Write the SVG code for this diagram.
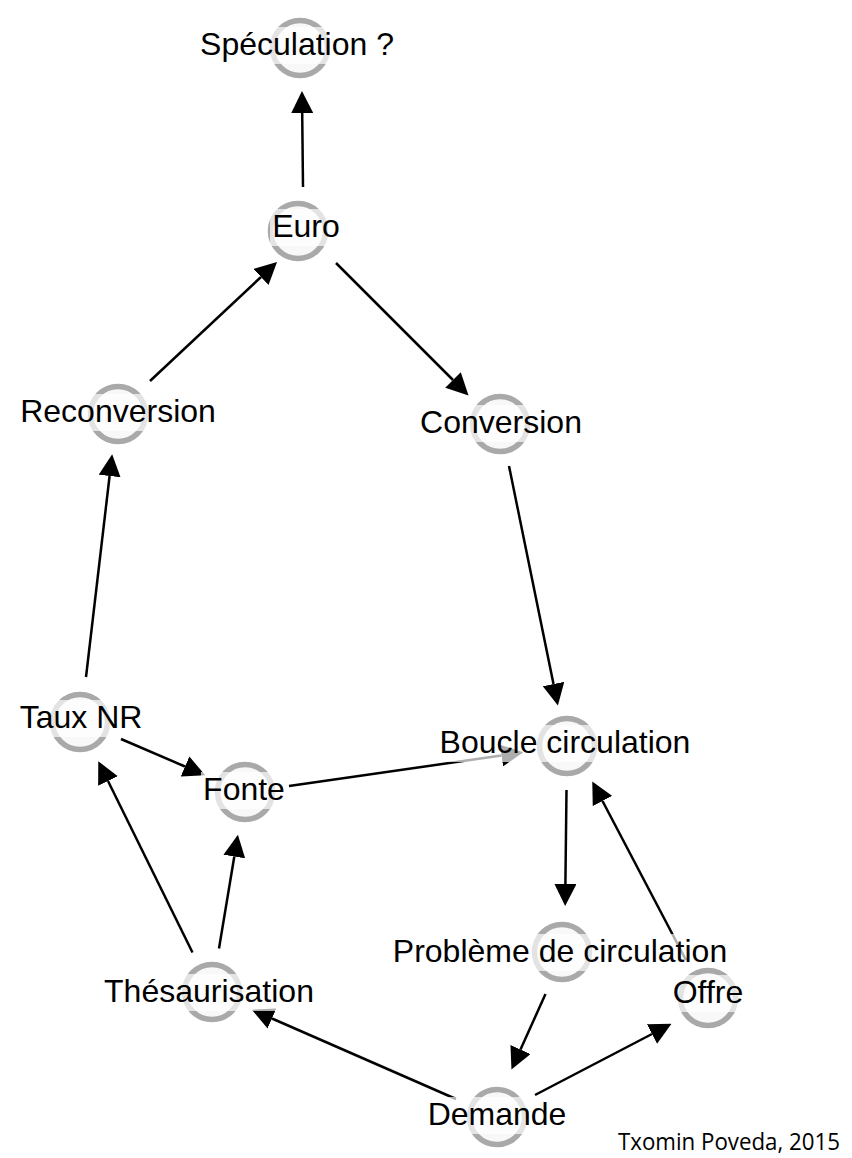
<svg xmlns="http://www.w3.org/2000/svg" width="852" height="1158" viewBox="0 0 852 1158">
<style>
.ring{fill:#f8f8f8;stroke:#a9a9a9;stroke-width:5.5}
.bg{fill:#ffffff;fill-opacity:0.68}
.lbl{font-family:"Liberation Sans",Arial,sans-serif;font-size:32px;fill:#000;text-anchor:middle}
.edge{stroke:#000;stroke-width:2.5;fill:none;marker-end:url(#arr)}
.credit{font-family:"Open Sans","Liberation Sans",sans-serif;font-size:23px;fill:#000}
</style>
<defs>
<marker id="arr" markerUnits="userSpaceOnUse" markerWidth="22" markerHeight="22" viewBox="0 0 21 21" refX="0" refY="10.5" orient="auto">
<path d="M0,0 L21,10.5 L0,21 Z" fill="#000"/>
</marker>
</defs>
<rect width="852" height="1158" fill="#fff"/>
<g id="connectors">
<line class="edge" x1="303" y1="187" x2="302.2" y2="113"/>
<line class="edge" x1="150" y1="381" x2="261" y2="277"/>
<line class="edge" x1="336" y1="263" x2="453" y2="380"/>
<line class="edge" x1="509" y1="466" x2="553.5" y2="684"/>
<line class="edge" x1="86" y1="677" x2="109.6" y2="476"/>
<line class="edge" x1="121" y1="739" x2="185" y2="766.5"/>
<line class="edge" x1="289" y1="786" x2="501.5" y2="755.5"/>
<line class="edge" x1="566.5" y1="790" x2="565.4" y2="884"/>
<line class="edge" x1="686" y1="960" x2="602.5" y2="801"/>
<line class="edge" x1="545.5" y1="994" x2="520.5" y2="1049.5"/>
<line class="edge" x1="535" y1="1095" x2="652" y2="1034"/>
<line class="edge" x1="456" y1="1099" x2="272" y2="1018.5"/>
<line class="edge" x1="192.5" y1="952.5" x2="108" y2="781"/>
<line class="edge" x1="219" y1="948.5" x2="234.3" y2="856.5"/>
</g>
<g id="n-speculation"><circle class="ring" cx="300" cy="48" r="27.5"/><rect class="bg" x="198" y="27" width="198" height="37"/><text class="lbl" x="297" y="55">Spéculation ?</text></g>
<g id="n-euro"><circle class="ring" cx="298" cy="231" r="27.5"/><rect class="bg" x="270" y="209" width="72" height="37"/><text class="lbl" x="306" y="237">Euro</text></g>
<g id="n-reconversion"><circle class="ring" cx="118" cy="414" r="27.5"/><rect class="bg" x="18" y="394" width="200" height="37"/><text class="lbl" x="118" y="422">Reconversion</text></g>
<g id="n-conversion"><circle class="ring" cx="500" cy="424" r="27.5"/><rect class="bg" x="418" y="405" width="166" height="37"/><text class="lbl" x="501" y="433">Conversion</text></g>
<g id="n-tauxnr"><circle class="ring" cx="80" cy="722" r="27.5"/><rect class="bg" x="16" y="700" width="130" height="37"/><text class="lbl" x="81" y="728">Taux NR</text></g>
<g id="n-fonte"><circle class="ring" cx="245" cy="792" r="27.5"/><rect class="bg" x="201" y="772" width="86" height="37"/><text class="lbl" x="244" y="800">Fonte</text></g>
<g id="n-boucle"><circle class="ring" cx="567" cy="746" r="27.5"/><rect class="bg" x="438" y="725" width="255" height="37"/><text class="lbl" x="565" y="753">Boucle circulation</text></g>
<g id="n-probleme"><circle class="ring" cx="562" cy="952" r="27.5"/><rect class="bg" x="391" y="934" width="338" height="37"/><text class="lbl" x="560" y="962">Problème de circulation</text></g>
<g id="n-offre"><circle class="ring" cx="708" cy="998" r="27.5"/><rect class="bg" x="671" y="975" width="75" height="37"/><text class="lbl" x="708" y="1003">Offre</text></g>
<g id="n-thesaurisation"><circle class="ring" cx="212" cy="992" r="27.5"/><rect class="bg" x="102" y="974" width="214" height="37"/><text class="lbl" x="209" y="1002">Thésaurisation</text></g>
<g id="n-demande"><circle class="ring" cx="497" cy="1117" r="27.5"/><rect class="bg" x="426" y="1097" width="143" height="37"/><text class="lbl" x="497" y="1125">Demande</text></g>
<text class="credit" x="618" y="1150" textLength="222" lengthAdjust="spacingAndGlyphs">Txomin Poveda, 2015</text>
</svg>
